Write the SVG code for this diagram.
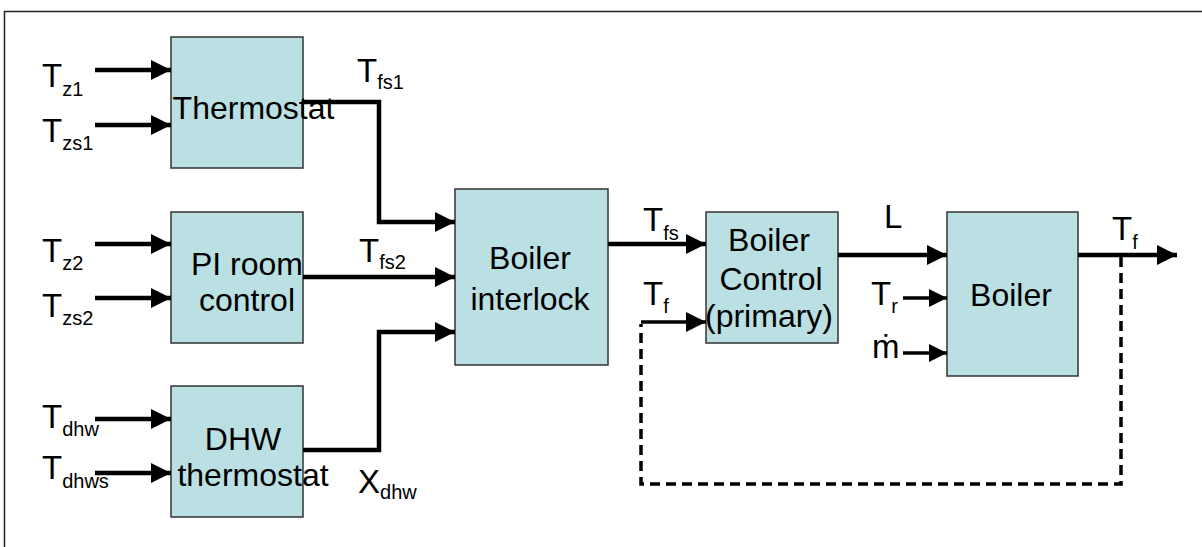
<svg xmlns="http://www.w3.org/2000/svg" width="1202" height="547" viewBox="0 0 1202 547">
<defs>
<style>
.box{fill:#BAE0E3;stroke:#333;stroke-width:1.5}
.t{font-family:"Liberation Sans",Arial,sans-serif;font-size:32px;fill:#000}
.l{font-size:33px}
.s{font-size:20px}
.c{text-anchor:middle}
.ln{fill:none;stroke:#000;stroke-width:4.5}
.thin{fill:none;stroke:#000;stroke-width:3.5}
.dash{fill:none;stroke:#000;stroke-width:3.5;stroke-dasharray:10,6}
</style>
<marker id="ah" viewBox="0 0 20 20" refX="20" refY="10" markerWidth="20" markerHeight="20" markerUnits="userSpaceOnUse" orient="auto">
<path d="M0,0 L20,10 L0,20 z" fill="#000"/>
</marker>
<marker id="ahs" viewBox="0 0 20 20" refX="20" refY="10" markerWidth="18" markerHeight="18" markerUnits="userSpaceOnUse" orient="auto">
<path d="M0,0 L20,10 L0,20 z" fill="#000"/>
</marker>
</defs>
<rect x="0" y="0" width="1202" height="547" fill="#fff"/>
<rect x="4.5" y="11.5" width="1220" height="560" fill="none" stroke="#222" stroke-width="1.5"/>

<g id="thermostat">
<rect class="box" x="171" y="37" width="132" height="131"/>
<text class="t c" x="253.5" y="119">Thermostat</text>
</g>
<g id="pi-room-control">
<rect class="box" x="171" y="212" width="132" height="131"/>
<text class="t c"><tspan x="247" y="275">PI room</tspan><tspan x="247" y="311">control</tspan></text>
</g>
<g id="dhw-thermostat">
<rect class="box" x="171" y="386" width="132" height="131"/>
<text class="t c"><tspan x="243" y="450">DHW</tspan><tspan x="253" y="486">thermostat</tspan></text>
</g>
<g id="boiler-interlock">
<rect class="box" x="455" y="189" width="153" height="176"/>
<text class="t c"><tspan x="530" y="269">Boiler</tspan><tspan x="530" y="310">interlock</tspan></text>
</g>
<g id="boiler-control">
<rect class="box" x="706" y="212" width="132" height="131"/>
<text class="t c"><tspan x="769" y="251">Boiler</tspan><tspan x="771" y="290">Control</tspan><tspan x="769" y="327">(primary)</tspan></text>
</g>
<g id="boiler">
<rect class="box" x="947" y="212" width="131" height="164"/>
<text class="t c" x="1011" y="306">Boiler</text>
</g>

<g id="connectors">
<path class="ln" d="M95,70 H171" marker-end="url(#ah)"/>
<path class="ln" d="M95,125 H171" marker-end="url(#ah)"/>
<path class="ln" d="M95,244 H171" marker-end="url(#ah)"/>
<path class="ln" d="M95,298 H171" marker-end="url(#ah)"/>
<path class="ln" d="M95,419 H171" marker-end="url(#ah)"/>
<path class="ln" d="M95,473 H171" marker-end="url(#ah)"/>
<path class="ln" d="M303,102 H379 V222 H455" marker-end="url(#ah)"/>
<path class="ln" d="M303,277 H455" marker-end="url(#ah)"/>
<path class="ln" d="M303,450 H379 V332 H455" marker-end="url(#ah)"/>
<path class="ln" d="M608,244 H706" marker-end="url(#ah)"/>
<path class="thin" d="M641,322 H706" marker-end="url(#ah)"/>
<path class="ln" d="M838,255 H947" marker-end="url(#ah)"/>
<path class="thin" d="M903,298 H947" marker-end="url(#ahs)"/>
<path class="thin" d="M903,353 H947" marker-end="url(#ahs)"/>
<path class="ln" d="M1078,255 H1177" marker-end="url(#ah)"/>
<path class="dash" d="M1121,257 V484 H641 V324"/>
</g>

<g id="labels">
<text class="t l" x="42" y="87">T<tspan class="s" dy="9">z1</tspan></text>
<text class="t l" x="42" y="142">T<tspan class="s" dy="8">zs1</tspan></text>
<text class="t l" x="42" y="262">T<tspan class="s" dy="8">z2</tspan></text>
<text class="t l" x="42" y="317">T<tspan class="s" dy="8">zs2</tspan></text>
<text class="t l" x="42" y="428">T<tspan class="s" dy="8">dhw</tspan></text>
<text class="t l" x="42" y="479">T<tspan class="s" dy="9">dhws</tspan></text>
<text class="t l" x="357" y="82">T<tspan class="s" dy="7">fs1</tspan></text>
<text class="t l" x="359" y="262">T<tspan class="s" dy="7">fs2</tspan></text>
<text class="t l" x="358" y="493">X<tspan class="s" dy="6">dhw</tspan></text>
<text class="t l" x="643" y="231">T<tspan class="s" dy="9">fs</tspan></text>
<text class="t l" x="643" y="305">T<tspan class="s" dy="8">f</tspan></text>
<text class="t l" x="884" y="228">L</text>
<text class="t l" x="871" y="305">T<tspan class="s" dy="8">r</tspan></text>
<text class="t l" x="872" y="358">ṁ</text>
<text class="t l" x="1112" y="240">T<tspan class="s" dy="9">f</tspan></text>
</g>
</svg>
